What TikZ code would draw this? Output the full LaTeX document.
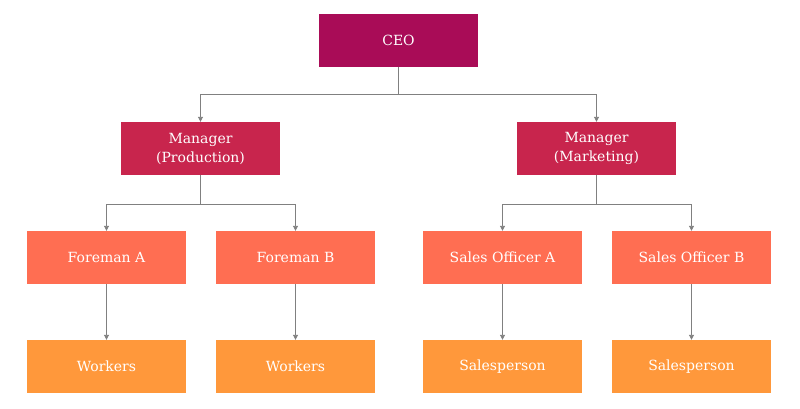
\documentclass[tikz,border=0pt]{standalone}
\usepackage{fontspec}
\setmainfont{DejaVu Serif}
\usetikzlibrary{arrows.meta}
\definecolor{ceoc}{HTML}{A90C57}
\definecolor{mgrc}{HTML}{C8254D}
\definecolor{forc}{HTML}{FF6E52}
\definecolor{wrkc}{HTML}{FF983B}
\definecolor{linec}{HTML}{808080}
\tikzset{
  box/.style={draw=none, minimum width=159pt, minimum height=53pt, inner sep=0pt,
    text=white, align=center, font=\fontsize{14}{19}\selectfont},
  conn/.style={draw=linec, line width=0.9pt, -{Triangle[length=5pt,width=5pt]}},
  plain/.style={draw=linec, line width=0.9pt}
}
\begin{document}
\begin{tikzpicture}[x=1pt,y=-1pt]
\useasboundingbox (0,0) rectangle (800,408);
\node[box, fill=ceoc] (ceo) at (398.5,40) {CEO};
\node[box, fill=mgrc] (mp) at (200.5,148.5) {Manager\\(Production)};
\node[box, fill=mgrc] (mm) at (596.5,148.5) {Manager\\(Marketing)};
\node[box, fill=forc] (fa) at (106.5,257.5) {Foreman A};
\node[box, fill=forc] (fb) at (295.5,257.5) {Foreman B};
\node[box, fill=forc] (sa) at (502.5,257.5) {Sales Officer A};
\node[box, fill=forc] (sb) at (691.5,257.5) {Sales Officer B};
\node[box, fill=wrkc] (wa) at (106.5,366.5) {Workers};
\node[box, fill=wrkc] (wb) at (295.5,366.5) {Workers};
\node[box, fill=wrkc] (pa) at (502.5,366.5) {Salesperson};
\node[box, fill=wrkc] (pb) at (691.5,366.5) {Salesperson};
\coordinate (j0) at (398.5,94);
\coordinate (j1) at (200.5,204);
\coordinate (j2) at (596.5,204);
\draw[plain] (ceo.south) -- (j0);
\draw[conn] (j0) -| (mp.north);
\draw[conn] (j0) -| (mm.north);
\draw[plain] (mp.south) -- (j1);
\draw[conn] (j1) -| (fa.north);
\draw[conn] (j1) -| (fb.north);
\draw[plain] (mm.south) -- (j2);
\draw[conn] (j2) -| (sa.north);
\draw[conn] (j2) -| (sb.north);
\draw[conn] (fa) -- (wa);
\draw[conn] (fb) -- (wb);
\draw[conn] (sa) -- (pa);
\draw[conn] (sb) -- (pb);
\end{tikzpicture}
\end{document}
